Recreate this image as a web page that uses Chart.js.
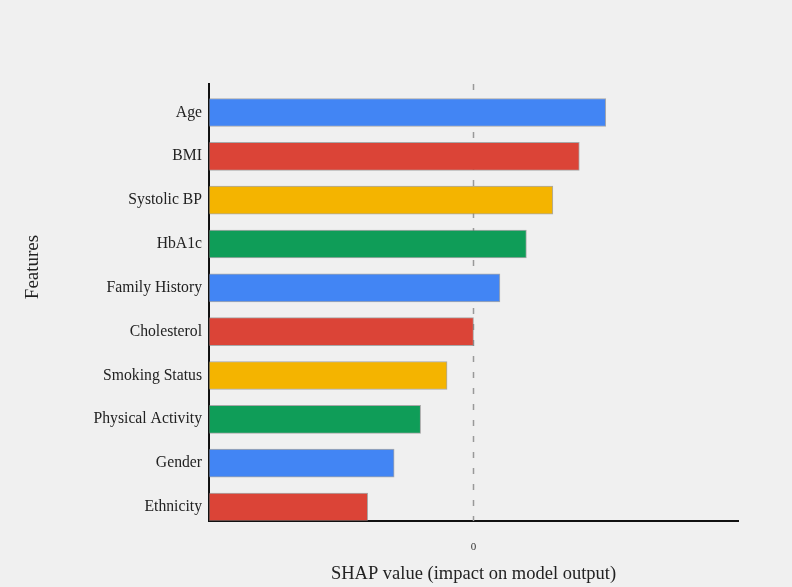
<!DOCTYPE html>
<html>
<head>
<meta charset="utf-8">
<script src="https://cdn.jsdelivr.net/npm/chart.js@4"></script>
<style>
  html, body { margin: 0; padding: 0; background: #f0f0f0; }
  #wrap { width: 792px; height: 587px; }
</style>
</head>
<body>
<div id="wrap"><canvas id="shapChart" width="792" height="587"></canvas></div>
<script>
// features from top to bottom
const features = ["Age", "BMI", "Systolic BP", "HbA1c", "Family History",
                  "Cholesterol", "Smoking Status", "Physical Activity", "Gender", "Ethnicity"];
const shapValues = [0.5, 0.4, 0.3, 0.2, 0.1, 0.0, -0.1, -0.2, -0.3, -0.4];
const barColors = ["#4285F4", "#DB4437", "#F4B400", "#0F9D58", "#4285F4",
                   "#DB4437", "#F4B400", "#0F9D58", "#4285F4", "#DB4437"];
const xTicks = [0];
const yTitle = "Features";

const serif = "'Liberation Serif', 'Times New Roman', serif";

const ctx = document.getElementById("shapChart").getContext("2d");

new Chart(ctx, {
    type: "bar",
    data: {
        datasets: [{
            data: shapValues.map((v, i) => ({ x: v, y: i })),
            base: -1,
            backgroundColor: barColors,
            borderColor: "rgba(120,120,120,0.6)",
            borderWidth: 1,
            borderSkipped: false,
            barThickness: 28
        }]
    },
    options: {
        indexAxis: "y",
        responsive: false,
        animation: false,
        layout: { padding: { top: 84, right: 54, bottom: 0, left: 0 } },
        plugins: {
            legend: { display: false },
            tooltip: { enabled: false }
        },
        scales: {
            x: {
                type: "linear",
                min: -1,
                max: 1,
                z: 1,
                afterBuildTicks: scale => { scale.ticks = xTicks.map(v => ({ value: v })); },
                afterFit: scale => { scale.height = 66; },
                grid: { display: false, drawTicks: false },
                border: { display: true, color: "#111", width: 2 },
                ticks: {
                    padding: 20,
                    color: "#333",
                    font: { family: serif, size: 11 }
                },
                title: {
                    display: true,
                    text: "SHAP value (impact on model output)",
                    color: "#222",
                    font: { family: serif, size: 18.5 },
                    padding: { top: 0, bottom: 2 }
                }
            },
            y: {
                type: "linear",
                reverse: true,
                offset: false,
                min: -0.65,
                max: 9.32,
                z: 1,
                afterBuildTicks: scale => { scale.ticks = features.map((f, i) => ({ value: i })); },
                afterFit: scale => { scale.width = 209; },
                grid: { display: false, drawTicks: false, offset: false },
                border: { display: true, color: "#111", width: 2 },
                ticks: {
                    padding: 7,
                    color: "#222",
                    font: { family: serif, size: 15.7 },
                    callback: v => features[v]
                },
                title: { display: false }
            }
        }
    },
    plugins: [{
        id: "zeroDash",
        beforeDatasetsDraw(chart) {
            // dashed vertical line at zero, under the bars
            const x0 = chart.scales.x.getPixelForValue(0);
            const area = chart.chartArea;
            const c = chart.ctx;
            c.save();
            c.strokeStyle = "#999";
            c.lineWidth = 1.5;
            c.setLineDash([6, 10]);
            c.beginPath();
            c.moveTo(x0, area.top);
            c.lineTo(x0, area.bottom);
            c.stroke();
            c.restore();
        },
        afterDraw(chart) {
            // y axis title, sits a bit above the middle in the original
            const c = chart.ctx;
            c.save();
            c.translate(33, 267);
            c.rotate(-Math.PI / 2);
            c.fillStyle = "#222";
            c.font = "19px " + serif;
            c.textAlign = "center";
            c.textBaseline = "middle";
            c.fillText(yTitle, 0, 0);
            c.restore();
        }
    }]
});
</script>
</body>
</html>
